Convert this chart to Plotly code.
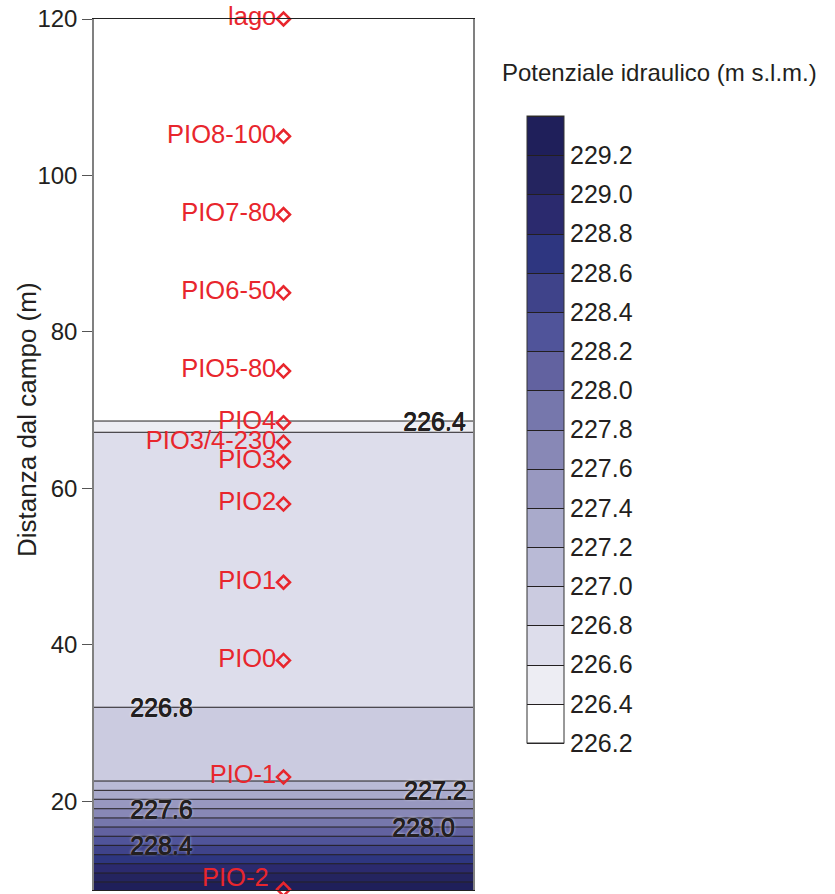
import plotly.graph_objects as go

# ---- data ----
# distance from the field (m) where each isoline of hydraulic head crosses the profile
dist = [8.66, 9.68, 10.83, 12.02, 13.17, 14.37, 15.53, 16.71, 17.87, 19.05,
        20.26, 21.40, 22.59, 32.02, 67.17, 68.61, 120.0]
head = [229.36, 229.2, 229.0, 228.8, 228.6, 228.4, 228.2, 228.0, 227.8, 227.6,
        227.4, 227.2, 227.0, 226.8, 226.6, 226.4, 226.25]

stations = ["lago", "PIO8-100", "PIO7-80", "PIO6-50", "PIO5-80", "PIO4",
            "PIO3/4-230", "PIO3", "PIO2", "PIO1", "PIO0", "PIO-1", "PIO-2"]
station_dist = [120, 105, 95, 85, 75, 68.4, 65.9, 63.4, 58, 48, 38, 23.1, 8.75]

levels_start, levels_end, levels_step = 226.2, 229.4, 0.2
cbar_ticks = [226.2, 226.4, 226.6, 226.8, 227.0, 227.2, 227.4, 227.6, 227.8,
              228.0, 228.2, 228.4, 228.6, 228.8, 229.0, 229.2]
label_levels = [226.4, 226.8, 227.2, 227.6, 228.0, 228.4]
y_ticks = [20, 40, 60, 80, 100, 120]

band_colors = ["#FFFFFF", "#EDEDF3", "#DDDDEB", "#CBCBE0", "#B9BAD6", "#A9AACB",
               "#9898C0", "#8888B6", "#7677AC", "#6262A0", "#50549A", "#3F438A",
               "#2E3680", "#2B2A6E", "#24245F", "#1F1F5A"]

# ---- styling ----
TXT = "#231f20"
RED = "#E8262D"
FONT = "Liberation Sans, Arial, sans-serif"

nb = len(band_colors)
colorscale = []
for i, c in enumerate(band_colors):
    colorscale.append([i / nb, c])
    colorscale.append([(i + 1) / nb, c])

fig = go.Figure()

fig.add_trace(go.Contour(
    x=[0, 1],
    y=dist,
    z=[[h, h] for h in head],
    zmin=levels_start, zmax=levels_end,
    colorscale=colorscale,
    contours=dict(start=levels_start, end=levels_end, size=levels_step,
                  coloring="heatmap", showlabels=False),
    line=dict(color=TXT, width=1),
    hoverinfo="skip",
    colorbar=dict(
        thickness=37, thicknessmode="pixels",
        len=627, lenmode="pixels",
        x=(527 - 94) / 379, xanchor="left", xpad=0,
        y=(890 - 116) / 871, yanchor="top", ypad=0,
        outlinecolor="#333333", outlinewidth=1,
        tickvals=cbar_ticks,
        ticktext=[f"{v:.1f}" for v in cbar_ticks],
        ticks="", ticklabelposition="outside",
        tickfont=dict(size=25, color=TXT, family=FONT),
    ),
))

# last station's label is drawn as an annotation (offset up-left of its marker)
scatter_text = stations[:-1] + [""]

fig.add_trace(go.Scatter(
    x=[0.5] * len(stations),
    y=station_dist,
    mode="markers+text",
    text=scatter_text,
    textposition="middle left",
    textfont=dict(size=25.5, color=RED, family=FONT),
    marker=dict(symbol="diamond-open", size=10, color=RED, line=dict(color=RED, width=2.5)),
    cliponaxis=False,
    showlegend=False,
    hoverinfo="skip",
))

label_x = [0.898, 0.179, 0.90, 0.179, 0.869, 0.179]
annotations = []
for lv, lx in zip(label_levels, label_x):
    annotations.append(dict(
        x=lx, y=dist[head.index(lv)], xref="x", yref="y",
        text=f"{lv:.1f}", showarrow=False,
        xanchor="center", yanchor="middle",
        font=dict(size=25, color=TXT, family=FONT,
                  shadow="0.6px 0px 0px #231f20, 0px 0.6px 0px #231f20, 0px 0px 3px rgba(255,255,255,0.9)"),
    ))

annotations.append(dict(
    x=0.5, y=station_dist[-1], xref="x", yref="y",
    text=stations[-1], showarrow=False,
    xanchor="right", yanchor="middle", xshift=-13, yshift=12,
    font=dict(size=25.5, color=RED, family=FONT),
))

annotations.append(dict(
    x=(500 - 94) / 379, y=(890 - 72) / 871, xref="paper", yref="paper",
    text="Potenziale idraulico (m s.l.m.)", showarrow=False,
    xanchor="left", yanchor="middle",
    font=dict(size=24, color=TXT, family=FONT),
))

annotations.append(dict(
    x=(27 - 94) / 379, y=(890 - 420) / 871, xref="paper", yref="paper",
    text="Distanza dal campo (m)", showarrow=False, textangle=-90,
    xanchor="center", yanchor="middle",
    font=dict(size=26, color=TXT, family=FONT),
))

fig.update_layout(
    width=835, height=894,
    margin=dict(l=94, r=835 - 473, t=19, b=4),
    paper_bgcolor="white", plot_bgcolor="white",
    showlegend=False,
    font=dict(family=FONT, color=TXT),
    annotations=annotations,
    xaxis=dict(range=[0, 1], showticklabels=False, ticks="", showgrid=False,
               zeroline=False, showline=True, mirror=True, linecolor="#222222",
               linewidth=1),
    yaxis=dict(range=[8.66, 120], tickvals=y_ticks, ticks="outside", ticklen=10,
               tickcolor="#555555", showgrid=False, zeroline=False,
               showline=True, mirror=True, linecolor="#808080", linewidth=1.5,
               tickfont=dict(size=24, color=TXT, family=FONT)),
)

fig.write_html("out.html")
